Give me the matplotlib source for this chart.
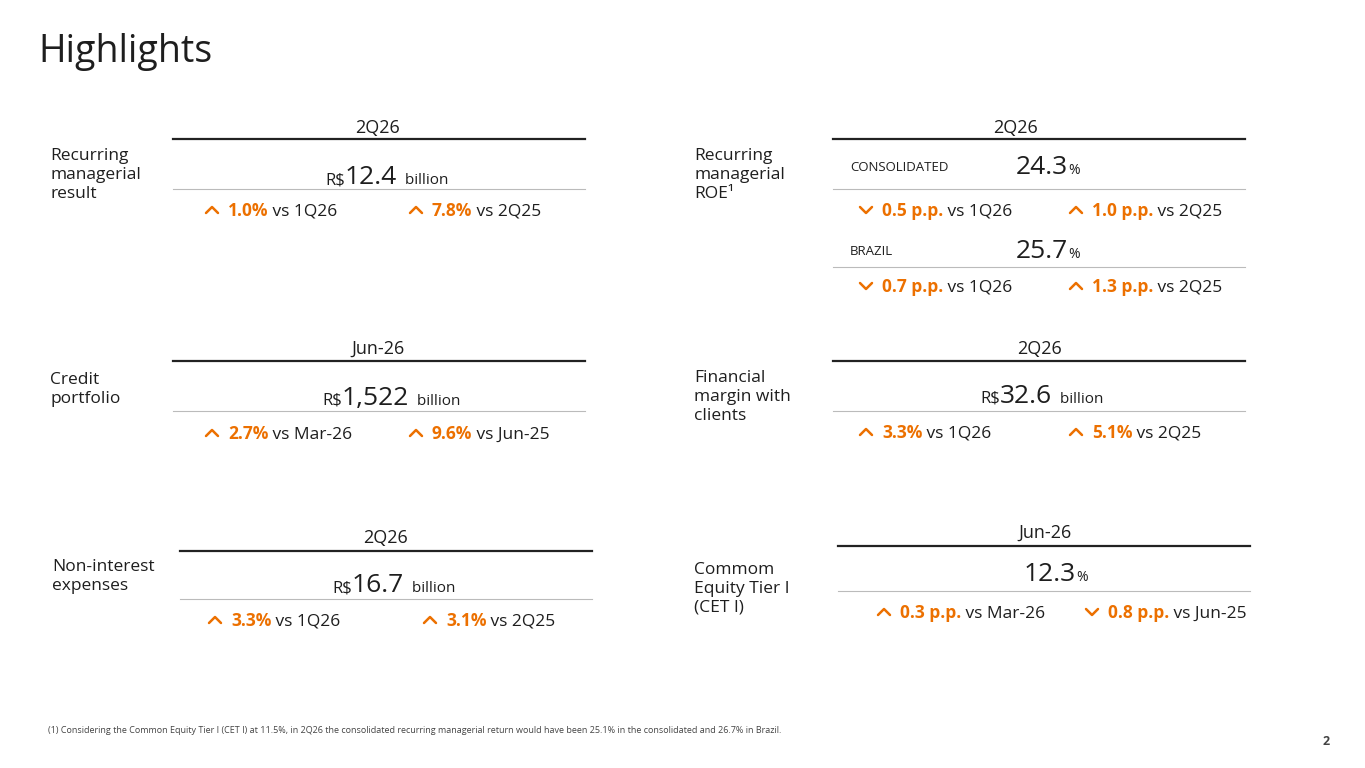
import matplotlib
matplotlib.use("Agg")
import matplotlib.pyplot as plt
from matplotlib.lines import Line2D

plt.rcParams['font.family'] = ['Open Sans', 'DejaVu Sans']
ORANGE = '#EC7000'
DARK = '#1E1E1E'
W, H = 1365, 768

# ---- data ----
titles = ["Recurring\nmanagerial\nresult", "Credit\nportfolio", "Non-interest\nexpenses",
          "Financial\nmargin with\nclients", "Commom\nEquity Tier I\n(CET I)"]
headers = ["2Q26", "Jun-26", "2Q26", "2Q26", "Jun-26"]
values = ["12.4", "1,522", "16.7", "32.6", "12.3"]
units = ["billion", "billion", "billion", "billion", "%"]
prefixes = ["R$", "R$", "R$", "R$", ""]
chg_a = ["1.0%", "2.7%", "3.3%", "3.3%", "0.3 p.p."]
cmp_a = ["vs 1Q26", "vs Mar-26", "vs 1Q26", "vs 1Q26", "vs Mar-26"]
dir_a = [1, 1, 1, 1, 1]
chg_b = ["7.8%", "9.6%", "3.1%", "5.1%", "0.8 p.p."]
cmp_b = ["vs 2Q25", "vs Jun-25", "vs 2Q25", "vs 2Q25", "vs Jun-25"]
dir_b = [1, 1, 1, 1, -1]
roe_segments = ["CONSOLIDATED", "BRAZIL"]
roe_values = ["24.3", "25.7"]
roe_chg_a = ["0.5 p.p.", "0.7 p.p."]
roe_dir_a = [-1, -1]
roe_chg_b = ["1.0 p.p.", "1.3 p.p."]
roe_dir_b = [1, 1]

fig = plt.figure(figsize=(13.65, 7.68), dpi=100)
fig.patch.set_facecolor('white')

def fx(x): return x / W
def fy(y): return 1 - y / H

def txt(x, y, s, **kw):
    kw.setdefault('color', DARK)
    return fig.text(fx(x), fy(y), s, **kw)

def hline(x0, x1, y, lw, c):
    fig.add_artist(Line2D([fx(x0), fx(x1)], [fy(y), fy(y)], lw=lw, color=c))

def chevron(x, y, d):
    # d=1 up, -1 down; centered at x,y
    xs = [x - 6, x, x + 6]
    ys = [y + 3 * d, y - 3 * d, y + 3 * d]
    fig.add_artist(Line2D([fx(v) for v in xs], [fy(v) for v in ys], lw=1.8, color=ORANGE,
                          solid_capstyle='round', solid_joinstyle='round'))

def chain(x, y, parts):
    prev = None
    for s, kw in parts:
        kw = dict(kw)
        kw.setdefault('color', DARK)
        if prev is None:
            prev = fig.text(fx(x), fy(y), s, va='baseline', ha='left', **kw)
        else:
            prev = fig.text(0, 0, s, va='baseline', ha='left', **kw)
            prev._chain_prev = None
            chain_list.append((prev, last[0]))
        last[0] = prev
    return prev

chain_list = []
last = [None]

def change(x, y, chg, cmp, d):
    chevron(x, y - 6, d)
    t1 = fig.text(fx(x + 16), fy(y), chg, color=ORANGE, fontsize=12.5, fontweight='bold', va='baseline')
    chain_list.append((fig.text(0, 0, ' ' + cmp, color=DARK, fontsize=12.5, va='baseline'), t1))

def value(x, y, pre, v, unit):
    t = fig.text(fx(x), fy(y), pre, fontsize=12, color=DARK, va='baseline')
    t2 = fig.text(0, 0, v, fontsize=19, color=DARK, va='baseline')
    chain_list.append((t2, t))
    sp = '  ' if unit != '%' else ''
    t3 = fig.text(0, 0, sp + unit, fontsize=11 if unit != '%' else 10, color=DARK, va='baseline')
    chain_list.append((t3, t2))

txt(38, 62, "Highlights", fontsize=27, va='baseline')

# panel layout (pixel positions)
panels = [
    dict(lx=50, ly=148, cx=378, x0=173, x1=585, hy=128, ty=139, vy=184, vx=325, sy=189, ry=216, ax=212, bx=416),
    dict(lx=50, ly=372, cx=378, x0=173, x1=585, hy=349, ty=361, vy=405, vx=322, sy=411, ry=439, ax=212, bx=416),
    dict(lx=52, ly=559, cx=385, x0=180, x1=592, hy=538, ty=551, vy=592, vx=332, sy=599, ry=626, ax=215, bx=430),
    dict(lx=694, ly=370, cx=1040, x0=833, x1=1245, hy=349, ty=361, vy=403, vx=980, sy=411, ry=438, ax=866, bx=1076),
    dict(lx=694, ly=562, cx=1045, x0=838, x1=1250, hy=533, ty=546, vy=581, vx=1024, sy=591, ry=618, ax=884, bx=1092),
]
for i, p in enumerate(panels):
    txt(p['lx'], p['ly'], titles[i], fontsize=12.5, va='top', linespacing=1.25)
    txt(p['cx'], p['hy'], headers[i], fontsize=13, ha='center', va='center')
    hline(p['x0'], p['x1'], p['ty'], 1.6, '#222222')
    value(p['vx'], p['vy'], prefixes[i], values[i], units[i])
    hline(p['x0'], p['x1'], p['sy'], 0.8, '#BBBBBB')
    change(p['ax'], p['ry'], chg_a[i], cmp_a[i], dir_a[i])
    change(p['bx'], p['ry'], chg_b[i], cmp_b[i], dir_b[i])

# ROE panel
txt(694, 148, "Recurring\nmanagerial\nROE¹", fontsize=12.5, va='top', linespacing=1.25)
txt(1015, 128, "2Q26", fontsize=13, ha='center', va='center')
hline(833, 1245, 139, 1.6, '#222222')
for k, base in enumerate([174, 258]):
    txt(850, base - 3, roe_segments[k], fontsize=9.5, va='baseline')
    t = fig.text(fx(1016), fy(base), roe_values[k], fontsize=19, color=DARK, va='baseline')
    chain_list.append((fig.text(0, 0, '%', fontsize=10, color=DARK, va='baseline'), t))
    sy = 189 if k == 0 else 267
    hline(833, 1245, sy, 0.8, '#BBBBBB')
    ry = sy + 27 - (0 if k == 0 else 2)
    change(866, ry, roe_chg_a[k], 'vs 1Q26', roe_dir_a[k])
    change(1076, ry, roe_chg_b[k], 'vs 2Q25', roe_dir_b[k])

txt(48, 733, "(1) Considering the Common Equity Tier I (CET I) at 11.5%, in 2Q26 the consolidated recurring "
    "managerial return would have been 25.1% in the consolidated and 26.7% in Brazil.", fontsize=6.5,
    va='baseline', color='#444444')
txt(1330, 745, "2", fontsize=9, fontweight='bold', ha='right', va='baseline', color='#444444')

# resolve chained positions
fig.canvas.draw()
r = fig.canvas.get_renderer()
for t, prev in chain_list:
    bb = prev.get_window_extent(r)
    x = bb.x1 / fig.bbox.width
    y = prev.get_position()[1]
    t.set_position((x, y))
    fig.canvas.draw()

fig.savefig("out.png", dpi=100, facecolor='white')
